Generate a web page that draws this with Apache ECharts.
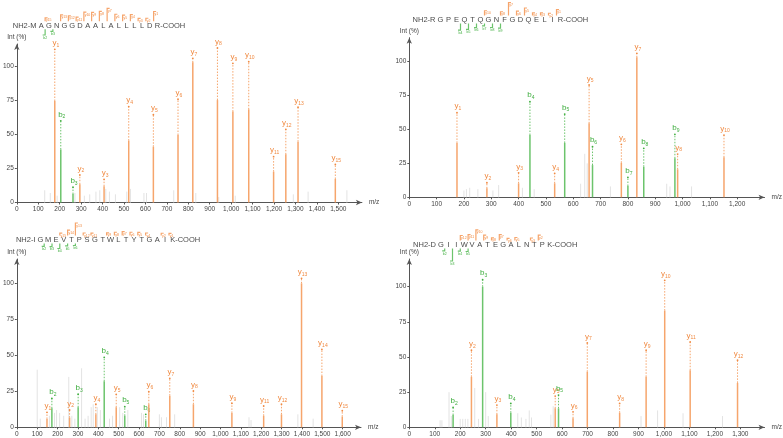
<!DOCTYPE html>
<html><head><meta charset="utf-8">
<script src="https://cdn.jsdelivr.net/npm/echarts@6/dist/echarts.min.js"></script>
<style>html,body{margin:0;padding:0;background:#fff}#c{width:783px;height:438px}</style>
</head><body><div id="c"></div><script>
// ---------- DATA ----------
const yTicks = [0, 25, 50, 75, 100];

// Panel 1
const p1Seq = 'MAGNGGDAALALLLLDR';
const p1IonType = ['y','b','b','y','y','y','y','y','y','y','y','y','y','y','y','y'];
const p1IonNum  = [1, 2, 3, 2, 3, 4, 5, 6, 7, 8, 9, 10, 11, 12, 13, 15];
const p1Mz      = [177, 205, 262, 294, 407, 522, 637, 752, 821, 936, 1008, 1082, 1198, 1255, 1312, 1486];
const p1Int     = [74.6, 39, 6.2, 13.4, 12, 45.5, 41, 49.6, 103, 75.3, 66.8, 68.5, 22.7, 35.4, 44.7, 17.3];
const p1Top     = [112.6, 60, 11.2, 20.2, 17, 70.5, 64.5, 75.9, 106, 113.6, 102.3, 103.5, 33.7, 53.8, 70, 28];
const p1GreyMz  = [130,156,188,271,315,340,369,387,415,432,460,513,530,593,605,732,835,942,1019,1290,1359,1540];
const p1GreyInt = [9,7,5,7,5,6,8,9,10,8,6,8,10,7,7,9,7,4,5,6,8,9];
const p1XTicks  = [0,100,200,300,400,500,600,700,800,900,1000,1100,1200,1300,1400,1500];

// Panel 2
const p2Seq = 'RGPEQTQGNFGDQELIR';
const p2IonType = ['y','y','y','b','y','b','y','b','y','b','y','b','b','y','y'];
const p2IonNum  = [1, 2, 3, 4, 4, 5, 5, 6, 6, 7, 7, 8, 9, 8, 10];
const p2Mz      = [174.5, 284, 400, 441.5, 532, 568.7, 658, 670.5, 776, 800, 832.7, 858, 972, 982, 1151.6];
const p2Int     = [40, 6.6, 10.3, 45.8, 10.3, 40, 54.4, 23.7, 25.4, 8.3, 103, 22.5, 28.7, 20.6, 29.4];
const p2Top     = [62.2, 10.7, 18, 70.3, 17.6, 61.2, 82.6, 37.2, 39, 14.7, 105.9, 36, 46.3, 31.8, 45.8];
const p2GreyMz  = [200,209,221,251,306,327,414,457,627,642,651,736,942,954,1033];
const p2GreyInt = [5,6,7,6,5,9,7,6,10,32,25,8,10,8,8];
const p2XTicks  = [0,100,200,300,400,500,600,700,800,900,1000,1100,1200];

// Panel 3
const p3Seq = 'IGMEVTPSGTWLTYTGAIK';
const p3IonType = ['y','b','y','b','y','b','y','b','b','y','y','y','y','y','y','y','y','y'];
const p3IonNum  = [1, 2, 2, 3, 4, 4, 5, 5, 6, 6, 7, 8, 9, 11, 12, 13, 14, 15];
const p3Mz      = [148, 172, 259, 301, 388, 429, 488, 530, 633, 648, 751, 867, 1056, 1212, 1299.5, 1398, 1498, 1598];
const p3Int     = [5.8, 13.2, 6.7, 13.9, 9, 32, 13.9, 8, 4.6, 16, 22, 16, 10, 8, 9, 100, 35.6, 7.4];
const p3Top     = [10.4, 20, 12, 23, 16, 48.6, 22.9, 14.3, 9, 24.7, 34, 25.2, 16.7, 14.8, 16, 103.5, 54.1, 11.5];
const p3GreyMz  = [100,115,160,185,195,210,230,255,270,285,318,335,350,365,375,395,410,455,470,505,520,545,612,622,700,710,735,775,1140,1150,1380,1455];
const p3GreyInt = [40,6,8,10,12,10,8,35,8,6,41,6,8,14,16,14,12,6,8,14,10,12,10,9,9,7,7,9,7,5,9,6];
const p3XTicks  = [0,100,200,300,400,500,600,700,800,900,1000,1100,1200,1300,1400,1500,1600];

// Panel 4
const p4Seq = 'DGIIWVATEGALNTPK';
const p4IonType = ['b','y','b','y','b','y','b','y','y','y','y','y','y','y'];
const p4IonNum  = [2, 2, 3, 3, 4, 5, 5, 6, 7, 8, 9, 10, 11, 12];
const p4Mz      = [172, 244, 288, 344, 398.6, 573, 586, 643, 699, 826, 930, 1003, 1103, 1289];
const p4Int     = [8.7, 35.9, 100, 9.2, 10.4, 13.5, 13.5, 6.4, 39.5, 10.4, 35.9, 83, 40.6, 31.6];
const p4Top     = [14.2, 54.8, 105, 15.8, 17, 22.2, 22.9, 11, 60, 17, 54.8, 104.5, 60.7, 47.7];
const p4GreyMz  = [121,128,156,165,200,210,220,230,257,272,300,310,426,440,458,471,480,556,565,910,975,1075,1230];
const p4GreyInt = [5,5,25,8,6,6,6,6,28,6,25,8,10,7,6,12,7,9,15,8,12,10,8];
const p4XTicks  = [0,100,200,300,400,500,600,700,800,900,1000,1100,1200,1300];

// ---------- LAYOUT / STYLE ----------
const FONT = 'Liberation Sans, Arial, sans-serif';
const ORANGE = '#f6a56c', ORANGE_T = '#f08a42', GREEN = '#6cc46c', GREEN_T = '#3fae3f', GREY = '#e3e3e3', AX = '#555';

const panels = [
  {seq:p1Seq, type:p1IonType, num:p1IonNum, mz:p1Mz, int:p1Int, top:p1Top, gmz:p1GreyMz, gint:p1GreyInt, xt:p1XTicks,
   g:{left:11.7, top:44, width:350.2, height:158.5}, xMax:1610, yMax:116.5, h:{c1:33.5, sp:7.75, ly:25.7}},
  {seq:p2Seq, type:p2IonType, num:p2IonNum, mz:p2Mz, int:p2Int, top:p2Top, gmz:p2GreyMz, gint:p2GreyInt, xt:p2XTicks,
   g:{left:409.3, top:37.7, width:357.5, height:159.6}, xMax:1300, yMax:117.4, h:{c1:432.5, sp:8.0, ly:20}},
  {seq:p3Seq, type:p3IonType, num:p3IonNum, mz:p3Mz, int:p3Int, top:p3Top, gmz:p3GreyMz, gint:p3GreyInt, xt:p3XTicks,
   g:{left:11.7, top:259, width:349.3, height:168.3}, xMax:1690, yMax:116.9, h:{c1:32.5, sp:7.8, ly:240}},
  {seq:p4Seq, type:p4IonType, num:p4IonNum, mz:p4Mz, int:p4Int, top:p4Top, gmz:p4GreyMz, gint:p4GreyInt, xt:p4XTicks,
   g:{left:409.3, top:259, width:357.1, height:168.3}, xMax:1395, yMax:119.7, h:{c1:433, sp:7.8, ly:245}}
];

const grid = [], xAxis = [], yAxis = [], series = [];
const txt = {fontSize:6.5, color:'#444', fontFamily:FONT};

panels.forEach((P, k) => {
  grid.push({left:P.g.left, top:P.g.top, width:P.g.width, height:P.g.height, containLabel:false});
  xAxis.push({type:'value', gridIndex:k, min:0, max:P.xMax,
    axisLine:{show:true, onZero:false, lineStyle:{color:AX, width:1}, symbol:['none','arrow'], symbolSize:[4,6]},
    axisTick:{show:true, length:2, lineStyle:{color:AX}, customValues:P.xt},
    axisLabel:Object.assign({customValues:P.xt, margin:3, formatter:v=>echarts.format.addCommas(v)}, txt),
    splitLine:{show:false}, name:'m/z', nameLocation:'end', nameGap:7, nameTextStyle:txt});
  yAxis.push({type:'value', gridIndex:k, min:0, max:P.yMax,
    axisLine:{show:true, lineStyle:{color:AX, width:1}, symbol:['none','arrow'], symbolSize:[4,6]},
    axisTick:{show:true, length:2, lineStyle:{color:AX}, customValues:yTicks},
    axisLabel:Object.assign({customValues:yTicks, margin:3}, txt),
    splitLine:{show:false}, name:'Int (%)', nameLocation:'end', nameGap:3,
    nameTextStyle:Object.assign({align:'center', verticalAlign:'bottom'}, txt)});
});

// header grids
panels.forEach((P, k) => {
  grid.push({left:P.h.c1 - P.h.sp, top:P.h.ly - 20, width:22 * P.h.sp, height:40});
  xAxis.push({type:'value', gridIndex:4+k, min:0, max:22, show:false});
  yAxis.push({type:'value', gridIndex:4+k, min:-20, max:20, show:false});
});

panels.forEach((P, k) => {
  // grey peaks
  series.push({type:'custom', xAxisIndex:k, yAxisIndex:k, silent:true, z:1,
    data:P.gmz.map((m,i)=>[m, P.gint[i]]),
    renderItem:(params, api) => {
      const a = api.coord([api.value(0), 0]), b = api.coord([api.value(0), api.value(1)]);
      return {type:'line', shape:{x1:a[0], y1:a[1], x2:b[0], y2:b[1]}, style:{stroke:GREY, lineWidth:1}};
    }});
  // annotated peaks
  series.push({type:'custom', xAxisIndex:k, yAxisIndex:k, silent:true, z:3,
    data:P.mz.map((m,i)=>[m, P.int[i], P.top[i]]),
    renderItem:(params, api) => {
      const i = params.dataIndex, isB = P.type[i] === 'b';
      const col = isB ? GREEN : ORANGE, tc = isB ? GREEN_T : ORANGE_T;
      const x = api.value(0);
      const a = api.coord([x, 0]), b = api.coord([x, api.value(1)]), c = api.coord([x, api.value(2)]);
      return {type:'group', children:[
        {type:'line', shape:{x1:a[0], y1:a[1], x2:b[0], y2:b[1]}, style:{stroke:col, lineWidth:1.5}},
        {type:'line', shape:{x1:b[0], y1:b[1], x2:c[0], y2:c[1]}, style:{stroke:col, lineWidth:1, lineDash:[1.5,1.5]}},
        {type:'circle', shape:{cx:c[0], cy:c[1], r:0.9}, style:{fill:tc}},
        {type:'text', x:c[0] + 1, y:c[1] - 1.5, style:{text:'{m|' + P.type[i] + '}{s|' + P.num[i] + '}',
          align:'center', verticalAlign:'bottom',
          rich:{m:{fontSize:8, fill:tc, fontFamily:FONT, lineHeight:10},
                s:{fontSize:5, fill:tc, fontFamily:FONT, verticalAlign:'bottom', lineHeight:6}}}}
      ]};
    }});
  // header letters
  const n = P.seq.length;
  series.push({type:'custom', xAxisIndex:4+k, yAxisIndex:4+k, silent:true, z:2,
    data:P.seq.split('').map((c,i)=>[i+1, 0]),
    renderItem:(params, api) => {
      const i = params.dataIndex, p = api.coord([api.value(0), 0]);
      let text = P.seq[i], align = 'center', x = p[0];
      if (i === 0) { text = 'NH2-' + text; align = 'right'; x = p[0] + 3; }
      else if (i === n - 1) { text = text + '-COOH'; align = 'left'; x = p[0] - 2.7; }
      return {type:'text', x:x, y:p[1], style:{text:text, align:align, verticalAlign:'middle', fontSize:7.5, fill:'#4a4a4a', fontFamily:FONT}};
    }});
  // header fragment marks
  series.push({type:'custom', xAxisIndex:4+k, yAxisIndex:4+k, silent:true, z:2,
    data:P.mz.map((m,i)=>[P.type[i] === 'b' ? P.num[i] + 0.5 : n - P.num[i] + 0.5, P.int[i]]),
    renderItem:(params, api) => {
      const i = params.dataIndex, isB = P.type[i] === 'b';
      const h = 1.5 + api.value(1) * 0.11;
      const pos = api.value(0);
      if (!isB) {
        const a = api.coord([pos, 4.5]), b = api.coord([pos, 4.5 + h]);
        return {type:'group', children:[
          {type:'polyline', shape:{points:[[a[0], a[1]], [b[0], b[1]], [b[0] + 2.5, b[1]]]}, style:{stroke:ORANGE, lineWidth:1.2, fill:null}},
          {type:'text', x:b[0] + 0.8, y:b[1] + 0.6, style:{text:'y' + P.num[i], fontSize:3.5, fill:ORANGE_T, fontFamily:FONT, align:'left', verticalAlign:'top'}}
        ]};
      } else {
        const a = api.coord([pos, -3.5]), b = api.coord([pos, -3.5 - h]);
        return {type:'group', children:[
          {type:'polyline', shape:{points:[[a[0], a[1]], [b[0], b[1]], [b[0] - 2.5, b[1]]]}, style:{stroke:GREEN, lineWidth:1.2, fill:null}},
          {type:'text', x:b[0], y:b[1] + 0.8, style:{text:'b' + P.num[i], fontSize:3.5, fill:GREEN_T, fontFamily:FONT, align:'center', verticalAlign:'top'}}
        ]};
      }
    }});
});

const chart = echarts.init(document.getElementById('c'), null, {renderer:'canvas'});
chart.setOption({animation:false, backgroundColor:'#fff', grid:grid, xAxis:xAxis, yAxis:yAxis, series:series});
</script></body></html>
